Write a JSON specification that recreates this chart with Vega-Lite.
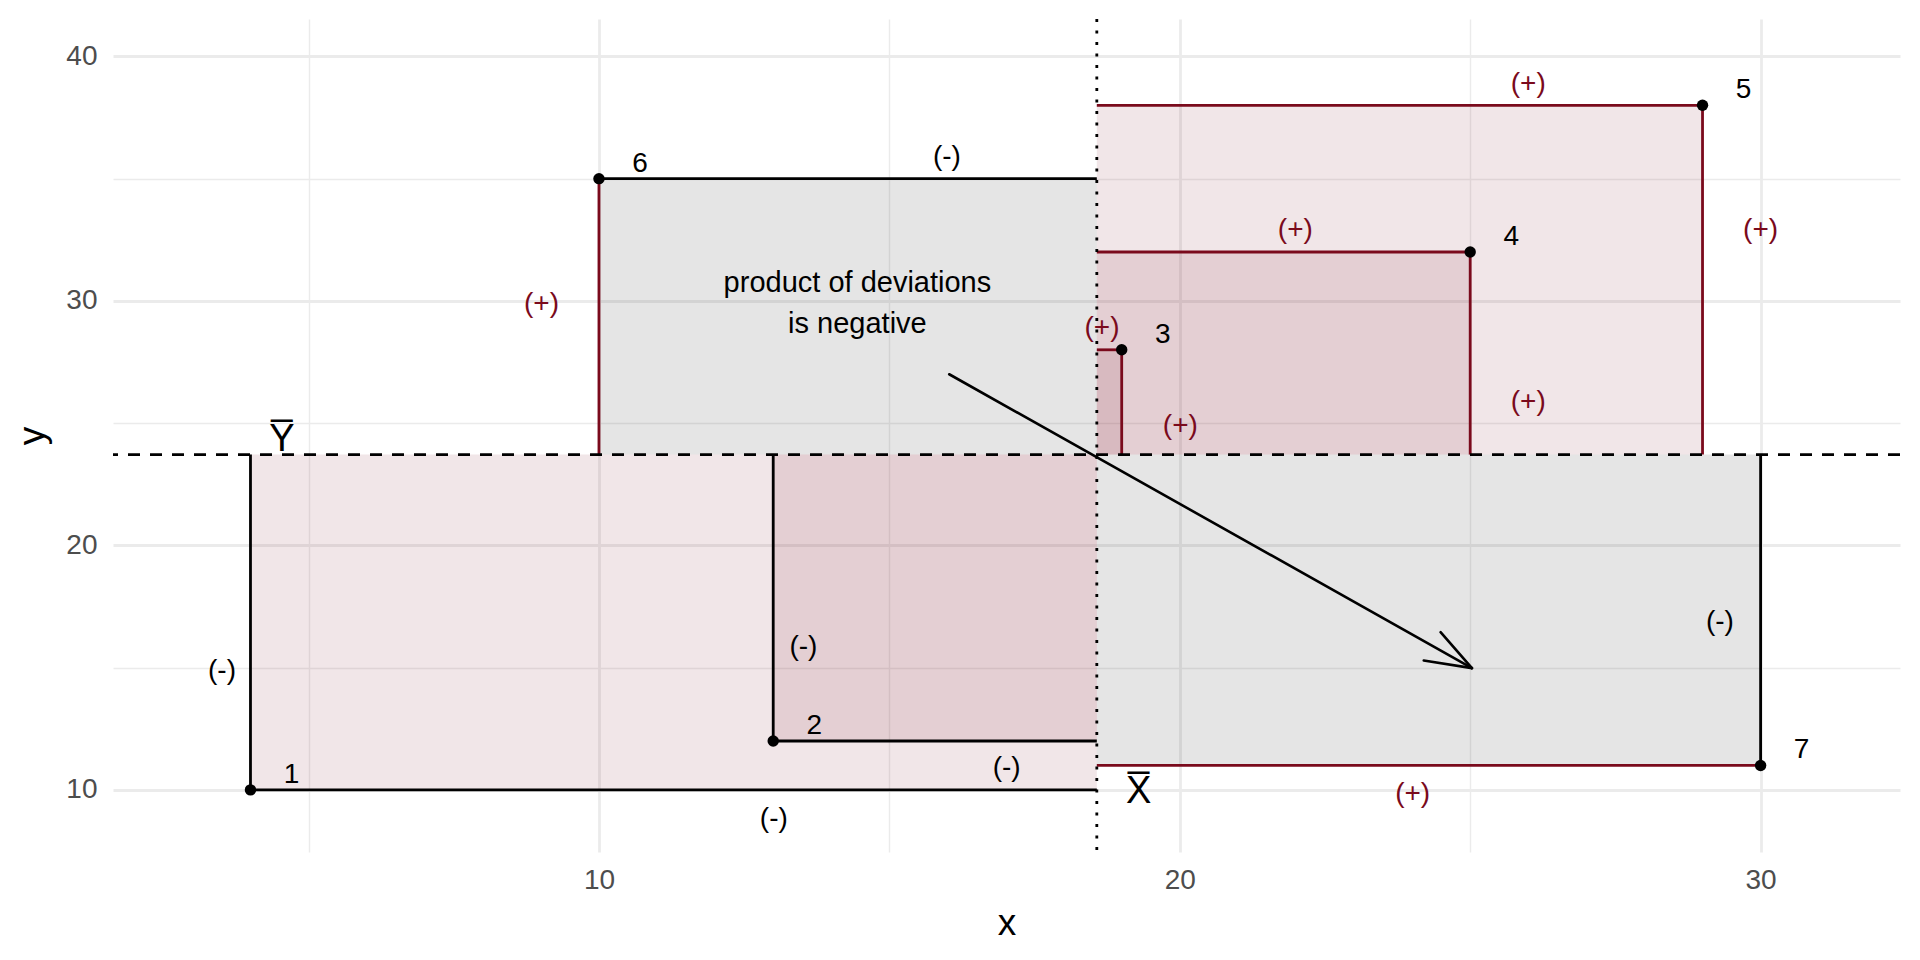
{
  "$schema": "https://vega.github.io/schema/vega-lite/v6.json",
  "width": 1787,
  "height": 833,
  "autosize": {"type": "none"},
  "padding": {"left": 113, "top": 19, "right": 20, "bottom": 108},
  "background": "white",
  "config": {
    "view": {"stroke": null},
    "font": "Liberation Sans",
    "text": {"font": "Liberation Sans"}
  },
  "datasets": {
    "pts": [
      {"id": "1", "x": 4, "y": 10, "sign": "+"},
      {"id": "2", "x": 13, "y": 12, "sign": "+"},
      {"id": "3", "x": 19, "y": 28, "sign": "+"},
      {"id": "4", "x": 25, "y": 32, "sign": "+"},
      {"id": "5", "x": 29, "y": 38, "sign": "+"},
      {"id": "6", "x": 10, "y": 35, "sign": "-"},
      {"id": "7", "x": 30, "y": 11, "sign": "-"}
    ],
    "hseg": [
      {"x": 4, "y": 10, "sign": "-"},
      {"x": 13, "y": 12, "sign": "-"},
      {"x": 19, "y": 28, "sign": "+"},
      {"x": 25, "y": 32, "sign": "+"},
      {"x": 29, "y": 38, "sign": "+"},
      {"x": 10, "y": 35, "sign": "-"},
      {"x": 30, "y": 11, "sign": "+"}
    ],
    "vseg": [
      {"x": 4, "y": 10, "sign": "-"},
      {"x": 13, "y": 12, "sign": "-"},
      {"x": 19, "y": 28, "sign": "+"},
      {"x": 25, "y": 32, "sign": "+"},
      {"x": 29, "y": 38, "sign": "+"},
      {"x": 10, "y": 35, "sign": "+"},
      {"x": 30, "y": 11, "sign": "-"}
    ],
    "seglabels": [
      {"x": 13.01, "y": 8.8, "label": "(-)", "sign": "-"},
      {"x": 3.51, "y": 14.86, "label": "(-)", "sign": "-"},
      {"x": 17.02, "y": 10.9, "label": "(-)", "sign": "-"},
      {"x": 13.52, "y": 15.86, "label": "(-)", "sign": "-"},
      {"x": 18.66, "y": 28.88, "label": "(+)", "sign": "+"},
      {"x": 20.01, "y": 24.87, "label": "(+)", "sign": "+"},
      {"x": 21.99, "y": 32.88, "label": "(+)", "sign": "+"},
      {"x": 26.0, "y": 25.87, "label": "(+)", "sign": "+"},
      {"x": 26.0, "y": 38.89, "label": "(+)", "sign": "+"},
      {"x": 30.0, "y": 32.88, "label": "(+)", "sign": "+"},
      {"x": 15.99, "y": 35.89, "label": "(-)", "sign": "-"},
      {"x": 9.01, "y": 29.88, "label": "(+)", "sign": "+"},
      {"x": 24.01, "y": 9.85, "label": "(+)", "sign": "+"},
      {"x": 29.3, "y": 16.86, "label": "(-)", "sign": "-"}
    ],
    "arrow": [
      {"x": 16.03, "y": 27.0, "x2": 25.03, "y2": 14.98},
      {"x": 24.49, "y": 16.45, "x2": 25.03, "y2": 14.98},
      {"x": 24.2, "y": 15.29, "x2": 25.03, "y2": 14.98}
    ],
    "annot": [
      {"x": 14.45, "y": 30.72, "label": "product of deviations\nis negative"}
    ],
    "means": [
      {"x": 4.54, "y": 24.3, "label": "Y̅"},
      {"x": 19.29, "y": 9.9, "label": "X̅"}
    ],
    "meanline": [
      {"xbar": 18.5714, "ybar": 23.7143}
    ]
  },
  "layer": [
    {
      "data": {"name": "pts"},
      "mark": {"type": "rect", "fillOpacity": 0.1},
      "encoding": {
        "x": {
          "field": "x", "type": "quantitative", "title": "x",
          "scale": {"domain": [1.633, 32.4], "nice": false, "zero": false},
          "axis": {
            "title": "x",
            "values": [5, 10, 15, 20, 25, 30],
            "format": "d",
            "labelExpr": "datum.value % 10 === 0 ? datum.label : ''",
            "grid": true,
            "gridColor": "#EBEBEB",
            "gridWidth": {"condition": {"test": "datum.value % 10 === 0", "value": 2.8}, "value": 1.4},
            "domain": false,
            "ticks": false,
            "labelFontSize": 28,
            "labelColor": "#4D4D4D",
            "labelPadding": 14,
            "labelFont": "Liberation Sans",
            "titleFont": "Liberation Sans",
            "titleFontSize": 37,
            "titleFontWeight": "normal",
            "titleColor": "#000000",
            "titleBaseline": "alphabetic",
            "titleY": 82
          }
        },
        "x2": {"datum": 18.5714},
        "y": {
          "field": "y", "type": "quantitative", "title": "y",
          "scale": {"domain": [7.46, 41.53], "nice": false, "zero": false},
          "axis": {
            "title": "y",
            "values": [10, 15, 20, 25, 30, 35, 40],
            "format": "d",
            "labelExpr": "datum.value % 10 === 0 ? datum.label : ''",
            "grid": true,
            "gridColor": "#EBEBEB",
            "gridWidth": {"condition": {"test": "datum.value % 10 === 0", "value": 2.8}, "value": 1.4},
            "domain": false,
            "ticks": false,
            "labelFontSize": 28,
            "labelColor": "#4D4D4D",
            "labelPadding": 16,
            "labelFont": "Liberation Sans",
            "titleFont": "Liberation Sans",
            "titleFontSize": 37,
            "titleFontWeight": "normal",
            "titleColor": "#000000",
            "titleBaseline": "alphabetic",
            "titleX": -70
          }
        },
        "y2": {"datum": 23.7143},
        "color": {
          "field": "sign", "type": "nominal",
          "scale": {"domain": ["+", "-"], "range": ["#7A0A1C", "#000000"]},
          "legend": null
        }
      }
    },
    {
      "data": {"name": "hseg"},
      "mark": {"type": "rule", "strokeWidth": 2.8},
      "encoding": {
        "x": {"field": "x", "type": "quantitative", "title": "x"},
        "x2": {"datum": 18.5714},
        "y": {"field": "y", "type": "quantitative", "title": "y"},
        "color": {"field": "sign", "type": "nominal", "legend": null}
      }
    },
    {
      "data": {"name": "vseg"},
      "mark": {"type": "rule", "strokeWidth": 2.8},
      "encoding": {
        "x": {"field": "x", "type": "quantitative", "title": "x"},
        "y": {"field": "y", "type": "quantitative", "title": "y"},
        "y2": {"datum": 23.7143},
        "color": {"field": "sign", "type": "nominal", "legend": null}
      }
    },
    {
      "data": {"name": "meanline"},
      "mark": {"type": "rule", "strokeWidth": 2.6, "strokeDash": [12, 10], "color": "#000000"},
      "encoding": {"y": {"field": "ybar", "type": "quantitative", "title": "y"}}
    },
    {
      "data": {"name": "meanline"},
      "mark": {"type": "rule", "strokeWidth": 2.8, "strokeDash": [3, 8.5], "color": "#000000"},
      "encoding": {"x": {"field": "xbar", "type": "quantitative", "title": "x"}}
    },
    {
      "data": {"name": "arrow"},
      "mark": {"type": "rule", "strokeWidth": 2.6, "color": "#000000", "strokeCap": "round"},
      "encoding": {
        "x": {"field": "x", "type": "quantitative", "title": "x"},
        "x2": {"field": "x2"},
        "y": {"field": "y", "type": "quantitative", "title": "y"},
        "y2": {"field": "y2"}
      }
    },
    {
      "data": {"name": "pts"},
      "mark": {"type": "point", "filled": true, "size": 130, "opacity": 1, "color": "#000000"},
      "encoding": {
        "x": {"field": "x", "type": "quantitative", "title": "x"},
        "y": {"field": "y", "type": "quantitative", "title": "y"}
      }
    },
    {
      "data": {"name": "pts"},
      "mark": {"type": "text", "fontSize": 28, "align": "center", "baseline": "middle", "dx": 41, "dy": -15, "color": "#000000"},
      "encoding": {
        "x": {"field": "x", "type": "quantitative", "title": "x"},
        "y": {"field": "y", "type": "quantitative", "title": "y"},
        "text": {"field": "id"}
      }
    },
    {
      "data": {"name": "seglabels"},
      "mark": {"type": "text", "fontSize": 28, "align": "center", "baseline": "middle"},
      "encoding": {
        "x": {"field": "x", "type": "quantitative", "title": "x"},
        "y": {"field": "y", "type": "quantitative", "title": "y"},
        "text": {"field": "label"},
        "color": {"field": "sign", "type": "nominal", "legend": null}
      }
    },
    {
      "data": {"name": "annot"},
      "mark": {"type": "text", "fontSize": 29, "align": "center", "baseline": "middle", "lineBreak": "\n", "lineHeight": 41, "color": "#000000"},
      "encoding": {
        "x": {"field": "x", "type": "quantitative", "title": "x"},
        "y": {"field": "y", "type": "quantitative", "title": "y"},
        "text": {"field": "label"}
      }
    },
    {
      "data": {"name": "means"},
      "mark": {"type": "text", "fontSize": 38, "align": "center", "baseline": "middle", "color": "#000000"},
      "encoding": {
        "x": {"field": "x", "type": "quantitative", "title": "x"},
        "y": {"field": "y", "type": "quantitative", "title": "y"},
        "text": {"field": "label"}
      }
    }
  ]
}
